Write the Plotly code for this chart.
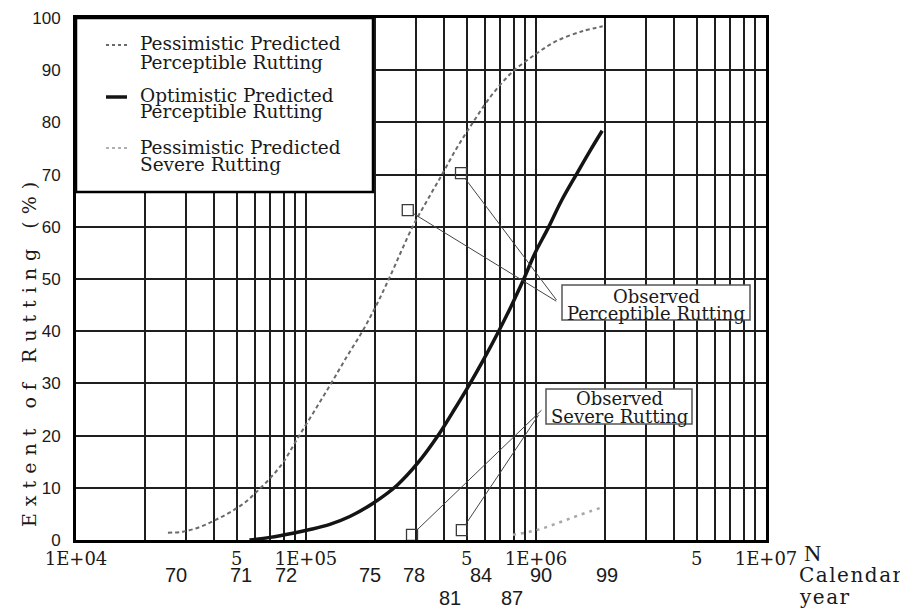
import numpy as np
import plotly.graph_objects as go

# ---------------- data ----------------
pess_perc_N = [2.51e4, 2.92e4, 3.46e4, 4.02e4, 4.67e4, 5.43e4, 6.12e4, 6.97e4, 7.94e4,
               9.14e4, 1.07e5, 1.27e5, 1.49e5, 1.77e5, 2.04e5, 2.32e5, 2.92e5, 3.36e5,
               3.90e5, 4.54e5, 5.32e5, 6.44e5, 7.87e5, 9.91e5, 1.23e6, 1.60e6, 1.95e6]
pess_perc_val = [1.4, 1.6, 2.5, 3.8, 5.3, 7.2, 9.3, 11.8, 14.8,
                 19.3, 24.2, 29.6, 34.8, 40.2, 45.3, 50.5, 60.2, 65.0,
                 70.0, 75.2, 80.0, 85.3, 89.6, 93.0, 95.6, 97.5, 98.4]

opt_perc_N = [5.68e4, 6.97e4, 8.77e4, 1.04e5, 1.27e5, 1.55e5, 1.95e5, 2.49e5, 3.07e5,
              3.75e5, 4.36e5, 5.06e5, 5.94e5, 6.90e5, 7.78e5, 8.77e5, 9.91e5, 1.13e6,
              1.29e6, 1.51e6, 1.72e6, 1.94e6]
opt_perc_val = [0.0, 0.5, 1.3, 2.0, 3.0, 4.5, 7.0, 10.5, 14.8,
                20.0, 24.6, 29.3, 34.7, 40.1, 44.7, 49.6, 55.0, 59.8,
                65.0, 70.3, 74.6, 78.4]

pess_sev_N = [7.94e5, 1.01e6, 1.27e6, 1.55e6, 1.95e6]
pess_sev_val = [1.0, 1.9, 3.4, 4.8, 6.3]

obs_perc_N = [2.77e5, 4.72e5]
obs_perc_val = [63.2, 70.3]
obs_sev_N = [2.89e5, 4.76e5]
obs_sev_val = [1.0, 1.9]

# x tick labels (N)
n_tick_vals = [1e4, 5e4, 1e5, 5e5, 1e6, 5e6, 1e7]
n_tick_text = ["1E+04", "5", "1E+05", "5", "1E+06", "5", "1E+07"]
n_minor_vals = [k * 10 ** d for d in (4, 5, 6) for k in (2, 3, 4, 6, 7, 8, 9)]

# calendar-year labels (two rows)
year_row1_N = [2.72e4, 5.22e4, 8.18e4, 1.90e5, 2.95e5, 5.76e5, 1.05e6, 2.04e6]
year_row1_text = ["70", "71", "72", "75", "78", "84", "90", "99"]
year_row2_N = [4.23e5, 7.87e5]
year_row2_text = ["81", "87"]

y_tick_vals = list(range(0, 101, 10))

legend_labels = [
    ("Pessimistic Predicted", "Perceptible Rutting"),
    ("Optimistic Predicted", "Perceptible Rutting"),
    ("Pessimistic Predicted", "Severe Rutting"),
]

# ---------------- styling / geometry ----------------
OFF = 8                      # page offset of the figure inside the browser window
W, H = 908 - OFF, 609 - OFF
L, R, T, B = 76, 766, 18, 540   # plot area in window pixels
SERIF = "DejaVu Serif"
SANS = "Liberation Sans"
GRID = "#1e1e1e"
TXT = "#1a1a1a"


def px(x):
    return (x - L) / (R - L)


def py(y):
    return (B - y) / (B - T)


fig = go.Figure()

fig.add_trace(go.Scatter(x=pess_perc_N, y=pess_perc_val, mode="lines",
                         line=dict(color="#6a6a6a", width=2, dash="4px,3px", shape="spline"),
                         showlegend=False, hoverinfo="skip"))
fig.add_trace(go.Scatter(x=opt_perc_N, y=opt_perc_val, mode="lines",
                         line=dict(color="#141414", width=3.5, shape="spline"),
                         showlegend=False, hoverinfo="skip"))
fig.add_trace(go.Scatter(x=pess_sev_N, y=pess_sev_val, mode="lines",
                         line=dict(color="#a8a8a8", width=2.5, dash="3px,5px", shape="spline"),
                         showlegend=False, hoverinfo="skip"))
fig.add_trace(go.Scatter(x=obs_perc_N + obs_sev_N, y=obs_perc_val + obs_sev_val, mode="markers",
                         marker=dict(symbol="square-open", size=11, color="#3a3a3a",
                                     line=dict(width=1.3, color="#3a3a3a")),
                         showlegend=False, hoverinfo="skip"))

fig.update_layout(
    width=W, height=H,
    margin=dict(l=L - OFF, r=(908 - R), t=T - OFF, b=(609 - B), pad=0, autoexpand=False),
    paper_bgcolor="white", plot_bgcolor="white",
    showlegend=False,
    xaxis=dict(type="log", range=[4, 7], tickmode="array",
               tickvals=n_tick_vals, ticktext=n_tick_text,
               tickfont=dict(family=SERIF, size=18, color=TXT),
               showgrid=True, gridcolor=GRID, gridwidth=1.5,
               minor=dict(tickmode="array", tickvals=n_minor_vals, showgrid=True,
                          gridcolor=GRID, gridwidth=1.5, ticks=""),
               showline=True, linecolor="black", linewidth=3, mirror=True,
               ticks="", zeroline=False, automargin=False),
    yaxis=dict(range=[0, 100], tickmode="array", tickvals=y_tick_vals,
               tickfont=dict(family=SANS, size=17, color=TXT),
               showgrid=True, gridcolor=GRID, gridwidth=1.5,
               showline=True, linecolor="black", linewidth=3, mirror=True,
               ticks="outside", tickcolor="rgba(0,0,0,0)", ticklen=9, zeroline=False,
               automargin=False),
)

shapes = []
annotations = []

# ---- calendar-year labels under the N axis ----
for Ns, labels, yc in ((year_row1_N, year_row1_text, 575), (year_row2_N, year_row2_text, 598)):
    for N, lab in zip(Ns, labels):
        annotations.append(dict(xref="x", yref="paper", x=np.log10(N), y=py(yc),
                                xanchor="center", yanchor="middle", text=lab, showarrow=False,
                                font=dict(family=SANS, size=20, color=TXT)))

# ---- legend box ----
shapes.append(dict(type="rect", xref="paper", yref="paper", x0=px(76), x1=px(373),
                   y0=py(192), y1=py(18), line=dict(color="black", width=2.5),
                   fillcolor="white", layer="above"))
sample_styles = [dict(color="#6a6a6a", width=2, dash="3px,3px"),
                 dict(color="#141414", width=3.5),
                 dict(color="#b0b0b0", width=2, dash="3px,3px")]
sample_y = [45, 97, 148]
text_y = [(44, 62), (95, 112), (147, 164)]
for (l1, l2), st, sy, (ty1, ty2) in zip(legend_labels, sample_styles, sample_y, text_y):
    shapes.append(dict(type="line", xref="paper", yref="paper", x0=px(106), x1=px(127),
                       y0=py(sy), y1=py(sy), line=st, layer="above"))
    for txt, ty in ((l1, ty1), (l2, ty2)):
        annotations.append(dict(xref="paper", yref="paper", x=px(138), y=py(ty),
                                xanchor="left", yanchor="middle", text=txt, showarrow=False,
                                font=dict(family=SERIF, size=18.5, color=TXT)))

# ---- observed boxes ----
boxes = [
    dict(x0=562, x1=750, y0=285, y1=320, lines=[("Observed", 296), ("Perceptible Rutting", 313)]),
    dict(x0=546, x1=692, y0=389, y1=424, lines=[("Observed", 399), ("Severe Rutting", 416)]),
]
for bx in boxes:
    shapes.append(dict(type="rect", xref="paper", yref="paper", x0=px(bx["x0"]), x1=px(bx["x1"]),
                       y0=py(bx["y1"]), y1=py(bx["y0"]), line=dict(color="#555", width=1.5),
                       fillcolor="white", layer="above"))
    cx = (bx["x0"] + bx["x1"]) / 2
    for txt, ty in bx["lines"]:
        annotations.append(dict(xref="paper", yref="paper", x=px(cx), y=py(ty),
                                xanchor="center", yanchor="middle", text=txt, showarrow=False,
                                font=dict(family=SERIF, size=18, color=TXT)))

# ---- leader lines from the boxes to the observed points ----
perc_offsets = [(150, 92), (97, 129)]
sev_offsets = [(131, -126), (78, -117)]
for N, v, (ax, ay) in list(zip(obs_perc_N, obs_perc_val, perc_offsets)) + \
        list(zip(obs_sev_N, obs_sev_val, sev_offsets)):
    annotations.append(dict(xref="x", yref="y", x=np.log10(N), y=v, text=" ",
                            font=dict(size=1), showarrow=True, arrowhead=0,
                            arrowwidth=1, arrowcolor="#444", ax=ax, ay=ay, standoff=7))

# ---- axis titles ----
annotations.append(dict(xref="paper", yref="paper", x=px(29), y=py(351),
                        xanchor="center", yanchor="middle", textangle=-90, showarrow=False,
                        text='<span style="letter-spacing:7px">Extent of Rutting (%)</span>',
                        font=dict(family=SERIF, size=19, color=TXT)))
annotations.append(dict(xref="paper", yref="paper", x=px(813), y=py(553),
                        xanchor="center", yanchor="middle", text="N", showarrow=False,
                        font=dict(family="Liberation Serif", size=24, color=TXT)))
annotations.append(dict(xref="paper", yref="paper", x=px(797), y=py(575),
                        xanchor="left", yanchor="middle", showarrow=False,
                        text='<span style="letter-spacing:1.5px">Calendar</span>',
                        font=dict(family=SERIF, size=20, color=TXT)))
annotations.append(dict(xref="paper", yref="paper", x=px(797), y=py(597),
                        xanchor="left", yanchor="middle", showarrow=False,
                        text='<span style="letter-spacing:1.5px">year</span>',
                        font=dict(family=SERIF, size=20, color=TXT)))

fig.update_layout(shapes=shapes, annotations=annotations)
fig.write_html("out.html")
